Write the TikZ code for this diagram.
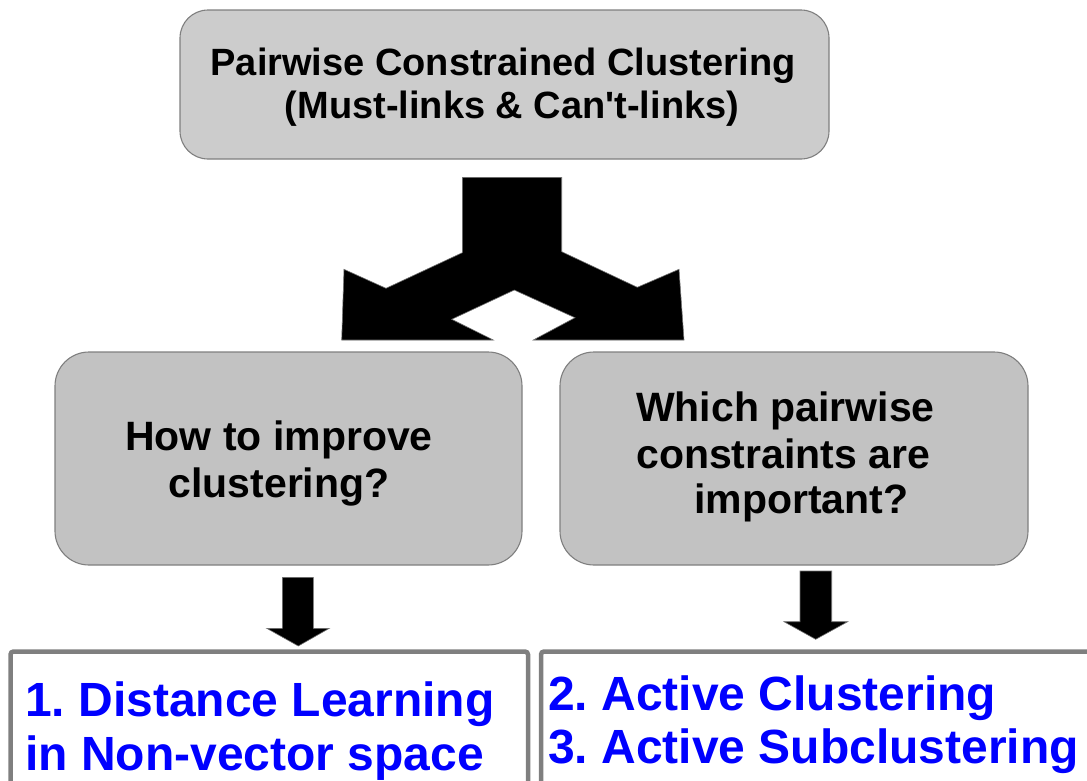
\documentclass[tikz,border=0pt]{standalone}
\usepackage{fontspec}
\setmainfont{Liberation Sans}[Ligatures=TeXOff]
\frenchspacing
\definecolor{boxfill}{HTML}{C2C2C2}
\definecolor{topfill}{HTML}{CCCCCC}
\definecolor{edge}{HTML}{7F7F7F}
\definecolor{resultblue}{HTML}{0000FF}
\begin{document}
\begin{tikzpicture}[x=1pt,y=-1pt,
  qbox/.style={draw=edge,line width=1.1pt,fill=boxfill,rounded corners=34pt},
  resbox/.style={draw=edge,line width=4.5pt,rounded corners=3pt},
  blockarrow/.style={fill=black,draw=black!55,line width=0.6pt,line join=miter},
  qtext/.style={inner sep=0pt,anchor=base,font=\bfseries\fontsize{41}{47}\selectfont},
  ttext/.style={inner sep=0pt,anchor=base,font=\bfseries\fontsize{38}{44}\selectfont},
  rtext/.style={inner sep=0pt,anchor=base west,text=resultblue,font=\bfseries\fontsize{48}{55}\selectfont}]
\useasboundingbox (0,0) rectangle (1087,780);

% question boxes
\draw[qbox,fill=topfill,rounded corners=28pt] (180,10) rectangle (829,159);
\node[inner sep=0pt] (top) at (504.5,84.5) {};
\draw[qbox] (55,352) rectangle (522,565);
\node[inner sep=0pt] (how) at (288.5,458.5) {};
\draw[qbox] (560,352) rectangle (1028,565);
\node[inner sep=0pt] (which) at (794,458.5) {};

% result boxes, running past the lower and right edges
\begin{scope}
\clip (0,0) rectangle (1087,780);
\draw[resbox] (10.5,651.5) rectangle (528,820);
\draw[resbox] (541,651.5) rectangle (1120,820);
\end{scope}
\coordinate (res1) at (269,651.5);
\coordinate (res2) at (815.7,651.5);

% texts
\node[ttext] (t1) at (503,75) {Pairwise Constrained Clustering};
\node[ttext] (t2) at (512,118) {(Must-links \& Can't-links)};
\node[qtext] (h1) at (279,450) {How to improve};
\node[qtext] (h2) at (279,497) {clustering?};
\node[qtext,anchor=base west] (w1) at (636,421.5) {Which pairwise};
\node[qtext,anchor=base west] (w2) at (636,468) {constraints are};
\node[qtext,anchor=base west] (w3) at (694,513) {important?};
\node[rtext] (r1) at (25,716) {1. Distance Learning};
\node[rtext] (r2) at (25,770) {in Non-vector space};
\node[rtext] (r3) at (548,710) {2. Active Clustering};
\node[rtext] (r4) at (548,763) {3. Active Subclustering};

% forked arrow from the top box to both question boxes
\fill[blockarrow]
  (462.3,177.3) -- (561.7,177.3) -- (561.7,251.7) -- (637.3,287.3)
  -- (679,269.3) -- (684,340) -- (533.3,340) -- (575,317.7)
  -- (514.3,290) -- (451.7,319.3) -- (493.3,340) -- (341.7,340)
  -- (344,269.3) -- (386,288.3) -- (462.3,252.7) -- cycle;

% arrows from the question boxes to the results
\fill[blockarrow]
  (282.3,577.3) -- (313.3,577.3) -- (313.3,628.3) -- (329.3,628.3)
  -- (298.3,646) -- (266.7,628.3) -- (282.3,628.3) -- cycle;
\fill[blockarrow]
  (800,571) -- (831.7,571) -- (831.7,621.7) -- (847.7,621.7)
  -- (815.7,639.3) -- (784,621.7) -- (800,621.7) -- cycle;
\end{tikzpicture}
\end{document}
